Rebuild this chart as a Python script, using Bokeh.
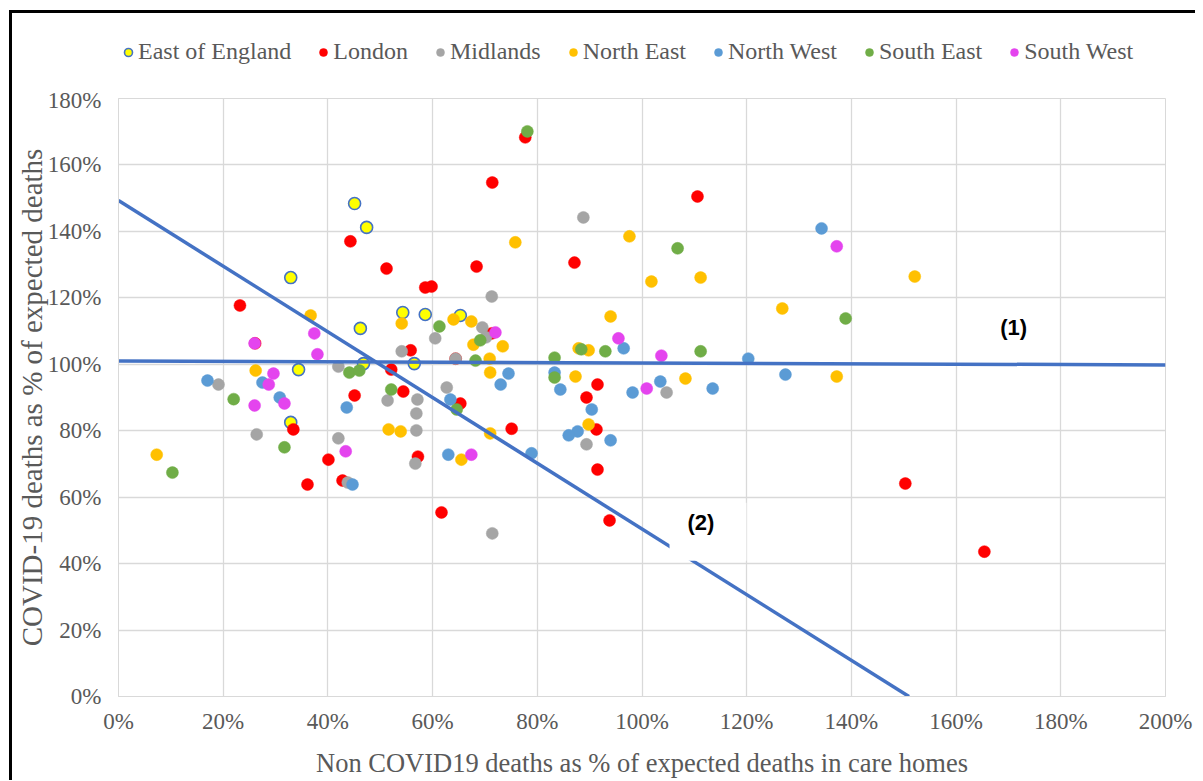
from bokeh.plotting import figure
from bokeh.layouts import column
from bokeh.models import Legend, LegendItem, Label, PrintfTickFormatter, Range1d, FixedTicker
from bokeh.embed import file_html
from bokeh.resources import INLINE

# ---------------- data (percentages) ----------------
regions = ["East of England", "London", "Midlands", "North East", "North West", "South East", "South West"]
colors = ["#FFFF00", "#FF0000", "#A5A5A5", "#FFC000", "#5B9BD5", "#70AD47", "#E444EE"]

eoe_x = [45.1, 47.4, 32.9, 54.3, 58.6, 65.3, 46.2, 34.4, 32.9, 56.5, 46.8]
eoe_y = [148.4, 141.2, 126.1, 115.6, 115.0, 114.7, 110.8, 98.4, 82.5, 100.2, 100.2]

lon_x = [77.7, 71.4, 110.6, 44.3, 87.1, 51.2, 68.4, 58.6, 59.8, 23.2, 26.1, 55.8, 64.4, 52.1, 54.4, 45.1,
         33.4, 40.1, 36.1, 42.8, 57.2, 65.3, 75.1, 61.7, 91.5, 89.4, 91.3, 91.5, 93.8, 150.3, 165.4, 71.3]
lon_y = [168.3, 154.7, 150.5, 137.0, 130.6, 128.8, 129.4, 123.1, 123.4, 117.7, 106.3, 104.2, 101.7, 98.4, 91.8, 90.6,
         80.4, 71.3, 63.8, 65.0, 72.2, 88.2, 80.6, 55.4, 93.9, 90.0, 80.4, 68.3, 53.0, 64.1, 43.6, 109.3]

mid_x = [88.8, 71.3, 54.1, 60.5, 69.5, 70.2, 64.4, 62.7, 19.1, 42.0, 51.4, 57.1, 56.9, 56.9, 56.7, 26.4,
         42.0, 43.8, 89.4, 104.7, 71.4]
mid_y = [144.2, 120.4, 103.9, 107.8, 111.1, 108.1, 101.7, 93.0, 93.9, 99.3, 89.1, 89.4, 85.2, 80.1, 70.1, 78.9,
         77.7, 64.4, 75.9, 91.5, 49.1]

ne_x = [75.8, 97.6, 101.8, 111.2, 126.8, 152.1, 137.2, 108.3, 94.0, 87.9, 89.8, 87.3, 89.8, 71.0, 70.9, 73.4,
        67.8, 67.4, 64.0, 54.1, 53.9, 71.0, 65.5, 51.6, 36.7, 26.2, 7.3]
ne_y = [136.7, 138.5, 124.9, 126.1, 116.8, 126.4, 96.3, 95.7, 114.4, 104.8, 104.2, 96.3, 81.9, 97.5, 101.7, 105.4,
        105.9, 112.9, 113.5, 112.3, 79.8, 79.2, 71.3, 80.4, 114.7, 98.1, 72.8]

nw_x = [134.3, 96.5, 120.3, 127.4, 113.5, 103.5, 98.2, 84.4, 83.3, 74.5, 73.0, 90.4, 87.7, 86.0, 94.0, 78.9,
        63.0, 63.4, 43.6, 44.7, 30.8, 27.5, 17.0]
nw_y = [140.9, 104.8, 101.7, 96.9, 92.7, 94.8, 91.5, 92.4, 97.5, 97.2, 93.9, 86.4, 79.8, 78.6, 77.1, 73.2,
        72.8, 89.4, 87.0, 63.8, 90.0, 94.5, 95.1]

se_x = [78.1, 106.8, 138.9, 111.2, 61.3, 69.1, 68.2, 88.4, 93.0, 83.3, 83.3, 44.1, 46.0, 22.0, 31.7, 52.1, 10.3, 64.6]
se_y = [170.1, 134.9, 113.8, 103.9, 111.4, 107.2, 101.1, 104.5, 103.9, 102.0, 96.0, 97.5, 98.1, 89.5, 75.0, 92.4, 67.4, 86.4]

sw_x = [137.2, 72.0, 95.5, 103.7, 100.9, 67.4, 26.0, 37.4, 38.0, 29.6, 28.7, 26.0, 31.7, 43.4]
sw_y = [135.5, 109.6, 107.8, 102.6, 92.7, 72.8, 106.3, 109.3, 103.0, 97.2, 93.9, 87.6, 88.2, 73.8]

trend1_x = [0, 200]
trend1_y = [101.0, 99.8]
trend2_x = [0, 151.0]
trend2_y = [149.3, 0]

x_ticks = [0, 20, 40, 60, 80, 100, 120, 140, 160, 180, 200]
y_ticks = [0, 20, 40, 60, 80, 100, 120, 140, 160, 180]

series_x = [eoe_x, lon_x, mid_x, ne_x, nw_x, se_x, sw_x]
series_y = [eoe_y, lon_y, mid_y, ne_y, nw_y, se_y, sw_y]

FONT = "Liberation Serif"
TXT = "#595959"

# ---------------- main plot ----------------
p = figure(frame_width=1047, frame_height=598,
           min_border_left=104, min_border_top=11, min_border_right=30, min_border_bottom=70,
           x_range=Range1d(0, 200), y_range=Range1d(0, 180),
           output_backend="svg", toolbar_location=None)

p.outline_line_color = "#D9D9D9"
p.background_fill_color = "white"
p.border_fill_color = "white"

for g, t in ((p.xgrid, x_ticks), (p.ygrid, y_ticks)):
    g.ticker = FixedTicker(ticks=t)
    g.grid_line_color = "#D9D9D9"
    g.grid_line_width = 1.3

p.xaxis.ticker = FixedTicker(ticks=x_ticks)
p.yaxis.ticker = FixedTicker(ticks=y_ticks)
for ax in (p.xaxis, p.yaxis):
    ax.formatter = PrintfTickFormatter(format="%d%%")
    ax.axis_line_color = "#D9D9D9"
    ax.major_tick_line_color = None
    ax.minor_tick_line_color = None
    ax.major_tick_out = 0
    ax.major_tick_in = 0
    ax.major_label_text_font = FONT
    ax.major_label_text_font_size = "23px"
    ax.major_label_text_color = TXT
    ax.axis_label_text_font = FONT
    ax.axis_label_text_font_style = "normal"
    ax.axis_label_text_color = TXT

p.xaxis.axis_label_text_font_size = "26.5px"
p.yaxis.axis_label_text_font_size = "29px"
p.xaxis.major_label_standoff = 12
p.yaxis.major_label_standoff = 17
p.xaxis.axis_label = "Non COVID19 deaths as % of expected deaths in care homes"
p.yaxis.axis_label = "COVID-19 deaths as % of expected deaths"
p.xaxis.axis_label_standoff = 11
p.yaxis.axis_label_standoff = -3

# legend-only strip above the plot (its frame aligns with the main plot's frame)
lf = figure(width=1181, height=74, min_border=0, min_border_left=0, min_border_right=0,
            min_border_top=0, min_border_bottom=0,
            x_axis_type=None, y_axis_type=None,
            x_range=Range1d(0, 1), y_range=Range1d(0, 1),
            output_backend="svg", toolbar_location=None)
lf.grid.visible = False
lf.outline_line_color = None
lf.border_fill_color = "white"

items = []
for name, col, xs, ys in zip(regions, colors, series_x, series_y):
    if name == "East of England":
        kw = dict(fill_color=col, line_color="#4472C4", line_width=1.6)
    else:
        kw = dict(fill_color=col, line_color=col, line_width=0.5)
    p.scatter(xs, ys, size=12, marker="circle", **kw)
    lr = lf.scatter(xs, ys, size=12, marker="circle", visible=False, **kw)
    items.append(LegendItem(label=name, renderers=[lr]))

p.line(trend1_x, trend1_y, line_color="#4472C4", line_width=3.5)
p.line(trend2_x, trend2_y, line_color="#4472C4", line_width=3.5)

p.add_layout(Label(x=171, y=111, text="(1)", text_font="Liberation Sans", text_font_style="bold",
                   text_font_size="22px", text_color="black", text_align="center", text_baseline="middle"))
p.add_layout(Label(x=112.6, y=49.6, text="(2)", text_font="Liberation Sans", text_font_style="bold",
                   text_font_size="22px", text_color="black", text_align="center", text_baseline="middle",
                   background_fill_color="white", padding=(18, 32, 7, 26)))

legend = Legend(items=items, orientation="horizontal", location=(0, 22),
                label_text_font=FONT, label_text_font_size="24px",
                label_text_color=TXT, glyph_width=20, glyph_height=20,
                label_standoff=0, spacing=22, padding=0, margin=0,
                inactive_fill_alpha=0, border_line_color=None, background_fill_alpha=0)
lf.add_layout(legend, "center")

layout = column(lf, p, spacing=0)
layout.styles = {"border-left": "3px solid black", "border-top": "3px solid black",
                 "margin-left": "9px", "margin-top": "10px", "background-color": "white"}

open("out.html", "w").write(file_html(layout, INLINE))
